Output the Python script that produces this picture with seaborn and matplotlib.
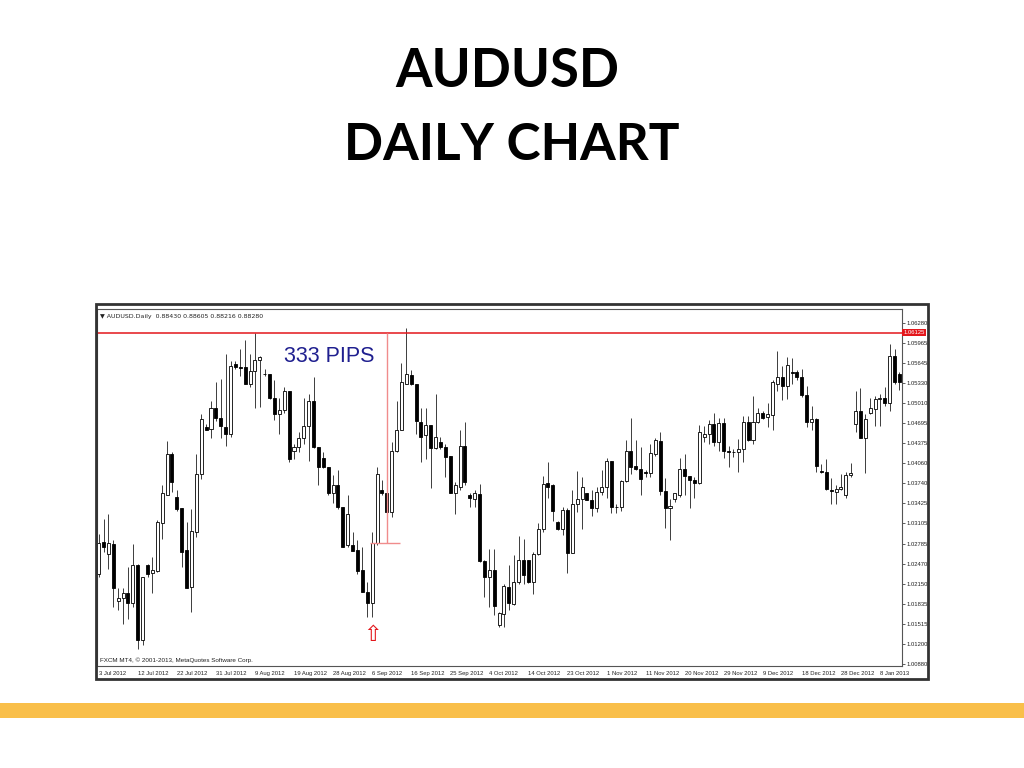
import matplotlib.pyplot as plt
import seaborn as sb
import numpy as np
from matplotlib.patches import Rectangle

# daily AUDUSD candles
opens = [1.0231, 1.0281, 1.0262, 1.0278, 1.0188, 1.0192, 1.0201, 1.0184, 1.0244, 1.0126,
         1.0244, 1.0232, 1.0235, 1.0311, 1.0356, 1.0421, 1.0352, 1.0335, 1.0268, 1.0210,
         1.0297, 1.0389, 1.0464, 1.0460, 1.0493, 1.0478, 1.0464, 1.0452, 1.0563, 1.0558,
         1.0558, 1.0531, 1.0552, 1.0569, 1.0548, 1.0548, 1.0510, 1.0484, 1.0490, 1.0521,
         1.0426, 1.0431, 1.0446, 1.0465, 1.0505, 1.0431, 1.0415, 1.0400, 1.0359, 1.0371,
         1.0336, 1.0276, 1.0276, 1.0268, 1.0237, 1.0202, 1.0185, 1.0279, 1.0364, 1.0358,
         1.0329, 1.0426, 1.0459, 1.0532, 1.0546, 1.0531, 1.0472, 1.0450, 1.0467, 1.0430,
         1.0439, 1.0431, 1.0418, 1.0359, 1.0368, 1.0434, 1.0355, 1.0350, 1.0357, 1.0251,
         1.0226, 1.0237, 1.0149, 1.0167, 1.0210, 1.0183, 1.0218, 1.0253, 1.0253, 1.0218,
         1.0262, 1.0301, 1.0374, 1.0371, 1.0313, 1.0301, 1.0332, 1.0264, 1.0341, 1.0350,
         1.0358, 1.0348, 1.0335, 1.0360, 1.0369, 1.0410, 1.0337, 1.0336, 1.0378, 1.0426,
         1.0402, 1.0397, 1.0392, 1.0390, 1.0421, 1.0441, 1.0362, 1.0335, 1.0350, 1.0356,
         1.0397, 1.0385, 1.0379, 1.0375, 1.0448, 1.0453, 1.0468, 1.0439, 1.0469, 1.0425,
         1.0424, 1.0423, 1.0429, 1.0472, 1.0443, 1.0471, 1.0485, 1.0479, 1.0483, 1.0532,
         1.0543, 1.0529, 1.0550, 1.0550, 1.0542, 1.0514, 1.0472, 1.0476, 1.0394, 1.0392,
         1.0363, 1.0360, 1.0365, 1.0355, 1.0387, 1.0468, 1.0489, 1.0446, 1.0485, 1.0492,
         1.0508, 1.0509, 1.0501, 1.0576, 1.0547]
highs = [1.0294, 1.0318, 1.0326, 1.0285, 1.0208, 1.0209, 1.0241, 1.0278, 1.0247, 1.0225,
         1.0247, 1.0258, 1.0316, 1.0371, 1.0441, 1.0423, 1.0363, 1.0335, 1.0313, 1.0334,
         1.0420, 1.0484, 1.0468, 1.0505, 1.0535, 1.0539, 1.0579, 1.0568, 1.0568, 1.0587,
         1.0601, 1.0579, 1.0612, 1.0576, 1.0555, 1.0548, 1.0538, 1.0510, 1.0526, 1.0521,
         1.0436, 1.0455, 1.0510, 1.0515, 1.0542, 1.0431, 1.0423, 1.0400, 1.0388, 1.0395,
         1.0336, 1.0355, 1.0297, 1.0284, 1.0273, 1.0218, 1.0297, 1.0400, 1.0379, 1.0358,
         1.0439, 1.0505, 1.0565, 1.0620, 1.0553, 1.0531, 1.0494, 1.0493, 1.0467, 1.0515,
         1.0448, 1.0436, 1.0418, 1.0376, 1.0458, 1.0471, 1.0359, 1.0363, 1.0373, 1.0252,
         1.0270, 1.0270, 1.0170, 1.0214, 1.0244, 1.0260, 1.0290, 1.0286, 1.0253, 1.0265,
         1.0311, 1.0386, 1.0408, 1.0373, 1.0315, 1.0336, 1.0335, 1.0364, 1.0394, 1.0384,
         1.0359, 1.0364, 1.0368, 1.0395, 1.0415, 1.0410, 1.0341, 1.0380, 1.0443, 1.0478,
         1.0442, 1.0432, 1.0395, 1.0436, 1.0446, 1.0455, 1.0383, 1.0350, 1.0359, 1.0414,
         1.0421, 1.0386, 1.0384, 1.0467, 1.0465, 1.0474, 1.0486, 1.0478, 1.0478, 1.0434,
         1.0429, 1.0444, 1.0481, 1.0481, 1.0513, 1.0493, 1.0489, 1.0502, 1.0538, 1.0583,
         1.0560, 1.0574, 1.0573, 1.0553, 1.0555, 1.0529, 1.0497, 1.0478, 1.0404, 1.0413,
         1.0383, 1.0372, 1.0389, 1.0392, 1.0406, 1.0520, 1.0525, 1.0484, 1.0510, 1.0513,
         1.0515, 1.0526, 1.0595, 1.0587, 1.0551]
lows = [1.0226, 1.0265, 1.0239, 1.0178, 1.0174, 1.0152, 1.0159, 1.0178, 1.0111, 1.0118,
        1.0226, 1.0200, 1.0234, 1.0286, 1.0356, 1.0360, 1.0331, 1.0242, 1.0209, 1.0171,
        1.0289, 1.0381, 1.0458, 1.0446, 1.0473, 1.0446, 1.0434, 1.0447, 1.0555, 1.0544,
        1.0531, 1.0527, 1.0494, 1.0495, 1.0544, 1.0508, 1.0474, 1.0452, 1.0486, 1.0408,
        1.0413, 1.0423, 1.0436, 1.0410, 1.0430, 1.0372, 1.0399, 1.0355, 1.0343, 1.0334,
        1.0273, 1.0274, 1.0267, 1.0230, 1.0202, 1.0163, 1.0163, 1.0276, 1.0355, 1.0326,
        1.0320, 1.0424, 1.0458, 1.0532, 1.0530, 1.0452, 1.0408, 1.0413, 1.0366, 1.0429,
        1.0429, 1.0384, 1.0358, 1.0326, 1.0363, 1.0371, 1.0337, 1.0337, 1.0250, 1.0194,
        1.0179, 1.0166, 1.0147, 1.0146, 1.0173, 1.0182, 1.0215, 1.0214, 1.0216, 1.0199,
        1.0260, 1.0297, 1.0351, 1.0315, 1.0300, 1.0293, 1.0232, 1.0264, 1.0329, 1.0302,
        1.0347, 1.0323, 1.0329, 1.0355, 1.0351, 1.0327, 1.0327, 1.0331, 1.0376, 1.0389,
        1.0395, 1.0356, 1.0384, 1.0384, 1.0418, 1.0356, 1.0304, 1.0284, 1.0344, 1.0353,
        1.0355, 1.0335, 1.0351, 1.0373, 1.0439, 1.0436, 1.0434, 1.0425, 1.0414, 1.0400,
        1.0416, 1.0392, 1.0408, 1.0441, 1.0437, 1.0469, 1.0476, 1.0463, 1.0459, 1.0521,
        1.0506, 1.0508, 1.0532, 1.0538, 1.0511, 1.0464, 1.0459, 1.0392, 1.0390, 1.0364,
        1.0342, 1.0342, 1.0363, 1.0351, 1.0384, 1.0455, 1.0446, 1.0390, 1.0484, 1.0465,
        1.0465, 1.0497, 1.0489, 1.0531, 1.0522]
closes = [1.0279, 1.0273, 1.0279, 1.0208, 1.0192, 1.0201, 1.0184, 1.0244, 1.0126, 1.0225,
          1.0231, 1.0237, 1.0313, 1.0358, 1.0420, 1.0376, 1.0334, 1.0266, 1.0209, 1.0298,
          1.0389, 1.0476, 1.0459, 1.0493, 1.0478, 1.0465, 1.0453, 1.0560, 1.0559, 1.0557,
          1.0531, 1.0552, 1.0569, 1.0574, 1.0547, 1.0510, 1.0484, 1.0490, 1.0521, 1.0413,
          1.0432, 1.0446, 1.0465, 1.0505, 1.0431, 1.0400, 1.0400, 1.0358, 1.0371, 1.0336,
          1.0274, 1.0326, 1.0267, 1.0235, 1.0202, 1.0185, 1.0279, 1.0389, 1.0358, 1.0329,
          1.0426, 1.0459, 1.0534, 1.0548, 1.0531, 1.0473, 1.0448, 1.0467, 1.0430, 1.0448,
          1.0431, 1.0416, 1.0358, 1.0371, 1.0434, 1.0376, 1.0351, 1.0358, 1.0251, 1.0226,
          1.0237, 1.0180, 1.0168, 1.0211, 1.0184, 1.0218, 1.0253, 1.0229, 1.0218, 1.0262,
          1.0302, 1.0373, 1.0369, 1.0330, 1.0301, 1.0332, 1.0264, 1.0341, 1.0350, 1.0369,
          1.0348, 1.0335, 1.0360, 1.0369, 1.0410, 1.0336, 1.0336, 1.0378, 1.0426, 1.0400,
          1.0397, 1.0381, 1.0390, 1.0422, 1.0443, 1.0362, 1.0335, 1.0338, 1.0358, 1.0397,
          1.0385, 1.0380, 1.0375, 1.0455, 1.0453, 1.0468, 1.0439, 1.0469, 1.0425, 1.0424,
          1.0423, 1.0429, 1.0472, 1.0443, 1.0471, 1.0485, 1.0478, 1.0484, 1.0534, 1.0543,
          1.0529, 1.0562, 1.0549, 1.0542, 1.0514, 1.0472, 1.0476, 1.0402, 1.0392, 1.0365,
          1.0362, 1.0365, 1.0368, 1.0388, 1.0390, 1.0489, 1.0446, 1.0476, 1.0493, 1.0508,
          1.0509, 1.0501, 1.0576, 1.0535, 1.0535]

date_labels = ["3 Jul 2012", "12 Jul 2012", "22 Jul 2012", "31 Jul 2012", "9 Aug 2012",
               "19 Aug 2012", "28 Aug 2012", "6 Sep 2012", "16 Sep 2012", "25 Sep 2012",
               "4 Oct 2012", "14 Oct 2012", "23 Oct 2012", "1 Nov 2012", "11 Nov 2012",
               "20 Nov 2012", "29 Nov 2012", "9 Dec 2012", "18 Dec 2012", "28 Dec 2012",
               "8 Jan 2013"]
price_ticks = [1.06280, 1.05965, 1.05645, 1.05330, 1.05010, 1.04695, 1.04375, 1.04060,
               1.03740, 1.03425, 1.03105, 1.02785, 1.02470, 1.02150, 1.01835, 1.01515,
               1.01200, 1.00880]

level_high = 1.06125
level_low = 1.02795
pips_bar = 59      # bar where the pip ruler is drawn
signal_bar = 56    # bar marked with the arrow

sb.set_style("white")
plt.rcParams['font.family'] = ['DejaVu Sans']
small = ['Liberation Sans', 'DejaVu Sans']

fig = plt.figure(figsize=(10.24, 7.68), dpi=100)
ax = fig.add_axes([0.0947, 0.1328, 0.7861, 0.4648])

o = np.array(opens)
c = np.array(closes)
x = np.arange(len(o))
up = c >= o

ax.vlines(x, lows, highs, color='#3c3c3c', lw=0.7, zorder=2)
body_lo = np.minimum(o, c)
body_h = np.maximum(np.abs(c - o), 0.00003)
ax.bar(x, body_h, bottom=body_lo, width=0.62,
       color=np.where(up, 'white', 'black'), edgecolor='black', linewidth=0.6, zorder=3)

# resistance line and pip ruler
ax.axhline(level_high, color='#e3161b', lw=1.1, zorder=4)
ax.vlines(pips_bar, level_low, level_high, color='#f08c8c', lw=1.0, zorder=5)
ax.hlines(level_low, pips_bar - 3.4, pips_bar + 2.7, color='#f08c8c', lw=1.0, zorder=5)
ax.text(38, 1.0567, "333 PIPS", color='#1f1f8f', fontsize=15.5,
        family=small, ha='left', va='baseline', zorder=6)
ax.text(signal_bar, 1.0134, "\u21e7", color='#e3161b', fontsize=16,
        ha='center', va='center', zorder=6)

ax.set_xlim(-0.35, 164.5)
ax.set_ylim(1.00848, 1.06501)

ax.set_xticks(np.arange(0, 8 * len(date_labels), 8))
ax.set_xticklabels(date_labels, fontsize=4.2, ha='left', family=small)
ax.yaxis.tick_right()
ax.set_yticks(price_ticks)
ax.set_yticklabels([f"{v:.5f}" for v in price_ticks], fontsize=4.2, family=small)
ax.tick_params(axis='both', length=2.5, width=0.6, color='#444444', pad=0.8,
               labelcolor='#222222', direction='out')
for s in ax.spines.values():
    s.set_color('#555555')
    s.set_linewidth(0.8)

ax.text(1.0015, level_high, "1.06125", transform=ax.get_yaxis_transform(), fontsize=4.2,
        family=small, color='white', va='center', ha='left',
        bbox=dict(facecolor='#e3161b', edgecolor='none', pad=0.8), zorder=7)

ax.text(0.004, 0.987, "\u25bc AUDUSD.Daily  0.88430 0.88605 0.88216 0.88280",
        transform=ax.transAxes, fontsize=4.5, color='#222222', va='top', ha='left')
ax.text(0.004, 0.008, "FXCM MT4, \u00a9 2001-2013, MetaQuotes Software Corp.",
        transform=ax.transAxes, fontsize=4.5, family=small, color='#222222',
        va='bottom', ha='left')

# outer frame of the screenshot and slide decoration
fig.patches.append(Rectangle((0.09375, 0.1159), 0.8125, 0.4883, transform=fig.transFigure,
                             fill=False, edgecolor='#333333', lw=2))
fig.patches.append(Rectangle((0.0, 0.0651), 1.0, 0.0195, transform=fig.transFigure,
                             facecolor='#f9bf4a', edgecolor='none'))

fig.text(0.495, 0.907, "AUDUSD", fontsize=38, fontweight='bold', family=['Lato', 'DejaVu Sans'],
         ha='center', va='center', color='black')
fig.text(0.500, 0.811, "DAILY CHART", fontsize=37, fontweight='bold',
         family=['Lato', 'DejaVu Sans'], ha='center', va='center', color='black')

plt.savefig('out.png', dpi=100)
plt.close()
